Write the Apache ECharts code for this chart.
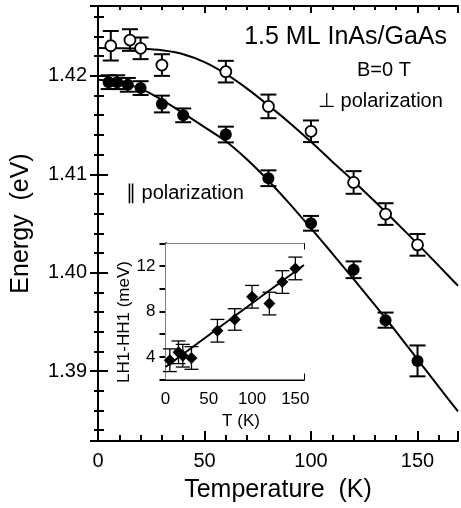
<!DOCTYPE html>
<html><head><meta charset="utf-8">
<script src="https://cdn.jsdelivr.net/npm/echarts@6/dist/echarts.min.js"></script>
<style>html,body{margin:0;padding:0;background:#fff}#c{width:461px;height:508px}</style>
</head><body><div id="c"></div>
<script>
// ---- main plot data: perpendicular polarization (open circles)
const perpT   = [6, 15, 20, 30, 60, 80, 100, 120, 135, 150];
const perpE   = [1.42306, 1.42364, 1.4228, 1.4211, 1.42043, 1.4169, 1.41437, 1.40917, 1.40596, 1.40283];
const perpErr = [0.0015, 0.0011, 0.0011, 0.0011, 0.0011, 0.0012, 0.0011, 0.00115, 0.0011, 0.0011];
// ---- parallel polarization (filled circles)
const parT   = [5, 9, 14, 20, 30, 40, 60, 80, 100, 120, 135, 150];
const parE   = [1.41936, 1.41936, 1.41909, 1.41876, 1.41714, 1.41599, 1.41404, 1.4096, 1.40502, 1.4003, 1.39518, 1.39104];
const parErr = [0.0007, 0.0007, 0.0007, 0.0007, 0.00085, 0.0007, 0.0008, 0.0008, 0.00075, 0.00085, 0.00077, 0.00157];
// ---- fitted curves
const fitT    = [0, 10, 20, 30, 40, 50, 60, 70, 80, 90, 100, 110, 120, 130, 140, 150, 160, 169];
const fitPerp = [1.42282, 1.4228, 1.42275, 1.4226, 1.4222, 1.4214, 1.4202, 1.4187, 1.417, 1.41522, 1.4133, 1.41128, 1.4093, 1.40723, 1.4051, 1.40293, 1.4007, 1.39867];
const fitPar  = [1.4196, 1.41935, 1.4187, 1.41755, 1.4162, 1.4148, 1.41336, 1.4115, 1.40935, 1.407, 1.4045, 1.40195, 1.39935, 1.3967, 1.394, 1.3912, 1.3884, 1.3859];
// ---- inset: LH1-HH1 splitting
const insT   = [5, 15, 20, 30, 60, 80, 100, 120, 135, 150];
const insV   = [3.7, 4.4, 4.1, 3.9, 6.3, 7.3, 9.3, 8.7, 10.6, 11.8];
const insErr = [1.0, 1.0, 1.0, 1.0, 1.0, 0.95, 1.0, 1.0, 1.0, 1.0];
const insFitT = [0, 160];
const insFitV = [3.1, 12.1];
// ---- tick labels
const mainXTicks = [0, 50, 100, 150];
const mainYTicks = ['1.39', '1.40', '1.41', '1.42'];
const insXTicks = [0, 50, 100, 150];
const insYTicks = [4, 8, 12];

const FONT = 'Liberation Sans, Arial, sans-serif';
const zip = (a, b) => a.map((v, i) => [v, b[i]]);
const zip3 = (a, b, c) => a.map((v, i) => [v, b[i], c[i]]);

function errRender(cap, lw) {
  return function (params, api) {
    const x = api.value(0), y = api.value(1), e = api.value(2);
    const p1 = api.coord([x, y + e]), p2 = api.coord([x, y - e]);
    const st = { stroke: '#000', lineWidth: lw };
    return { type: 'group', children: [
      { type: 'line', shape: { x1: p1[0], y1: p1[1], x2: p2[0], y2: p2[1] }, style: st },
      { type: 'line', shape: { x1: p1[0] - cap, y1: p1[1], x2: p1[0] + cap, y2: p1[1] }, style: st },
      { type: 'line', shape: { x1: p2[0] - cap, y1: p2[1], x2: p2[0] + cap, y2: p2[1] }, style: st }
    ]};
  };
}

const axLine = { show: true, lineStyle: { color: '#000', width: 2 } };
function frameAxis(base) { return Object.assign({ splitLine: { show: false }, minorSplitLine: { show: false }, axisLine: axLine }, base); }

const chart = echarts.init(document.getElementById('c'), null, { renderer: 'canvas' });
chart.setOption({
  animation: false,
  backgroundColor: '#fff',
  grid: [
    { left: 98, top: 6, right: 1, bottom: 65 },
    { left: 165.5, top: 243.5, right: 157, bottom: 128.5, show: true, backgroundColor: '#fff', borderWidth: 0, z: 5 }
  ],
  xAxis: [
    frameAxis({ gridIndex: 0, type: 'value', min: 0, max: 169, interval: 50, position: 'bottom',
      axisTick: { inside: true, length: 10, lineStyle: { width: 2, color: '#000' } },
      minorTick: { show: true, splitNumber: 5, length: 6, lineStyle: { width: 2, color: '#000' } },
      axisLabel: { fontSize: 20, color: '#000', fontFamily: FONT, margin: 10,
        formatter: v => mainXTicks.indexOf(v) >= 0 ? String(v) : '' },
      name: 'Temperature  (K)', nameLocation: 'middle', nameGap: 37,
      nameTextStyle: { fontSize: 25, color: '#000', fontFamily: FONT } }),
    frameAxis({ gridIndex: 0, type: 'value', min: 0, max: 169, interval: 50, position: 'top',
      axisTick: { inside: true, length: 7, lineStyle: { width: 2, color: '#000' } },
      minorTick: { show: true, splitNumber: 5, length: 4, lineStyle: { width: 2, color: '#000' } },
      axisLabel: { show: false } }),
    frameAxis({ gridIndex: 1, type: 'value', min: 0, max: 160, interval: 25, position: 'bottom',
      axisTick: { inside: true, length: 6, lineStyle: { width: 2, color: '#000' } },
      axisLabel: { fontSize: 17, color: '#000', fontFamily: FONT, margin: 11,
        formatter: v => insXTicks.indexOf(v) >= 0 ? String(v) : '' } }),
    frameAxis({ gridIndex: 1, type: 'value', min: 0, max: 160, interval: 25, position: 'top',
      axisTick: { inside: true, length: 6, lineStyle: { width: 2, color: '#000' } },
      axisLabel: { show: false } })
  ],
  yAxis: [
    frameAxis({ gridIndex: 0, type: 'value', min: 1.3829, max: 1.4271, splitNumber: 5, position: 'left',
      axisTick: { inside: true, length: 10, lineStyle: { width: 2, color: '#000' } },
      minorTick: { show: true, splitNumber: 5, length: 6, lineStyle: { width: 2, color: '#000' } },
      axisLabel: { fontSize: 20, color: '#000', fontFamily: FONT, margin: 11,
        formatter: v => { const s = v.toFixed(2); return (Math.abs(v - parseFloat(s)) < 1e-6 && mainYTicks.indexOf(s) >= 0) ? s : ''; } },
      name: 'Energy  (eV)', nameLocation: 'middle', nameGap: 64,
      nameTextStyle: { fontSize: 25, color: '#000', fontFamily: FONT } }),
    frameAxis({ gridIndex: 0, type: 'value', min: 1.3829, max: 1.4271, splitNumber: 5, position: 'right',
      axisTick: { inside: true, length: 8, lineStyle: { width: 2, color: '#000' } },
      minorTick: { show: true, splitNumber: 5, length: 4, lineStyle: { width: 2, color: '#000' } },
      axisLabel: { show: false } }),
    frameAxis({ gridIndex: 1, type: 'value', min: 2, max: 14, interval: 2, position: 'left',
      axisTick: { inside: true, length: 6, lineStyle: { width: 2, color: '#000' } },
      axisLabel: { fontSize: 17, color: '#000', fontFamily: FONT, margin: 10,
        formatter: v => insYTicks.indexOf(v) >= 0 ? String(v) : '' } }),
    frameAxis({ gridIndex: 1, type: 'value', min: 2, max: 14, interval: 2, position: 'right',
      axisTick: { inside: true, length: 6, lineStyle: { width: 2, color: '#000' } },
      axisLabel: { show: false } })
  ],
  series: [
    { type: 'line', xAxisIndex: 0, yAxisIndex: 0, data: zip(fitT, fitPerp), smooth: 0.3, showSymbol: false, symbol: 'none',
      lineStyle: { color: '#000', width: 2 }, z: 2 },
    { type: 'line', xAxisIndex: 0, yAxisIndex: 0, data: zip(fitT, fitPar), smooth: 0.3, showSymbol: false, symbol: 'none',
      lineStyle: { color: '#000', width: 2 }, z: 2 },
    { type: 'custom', xAxisIndex: 0, yAxisIndex: 0, data: zip3(perpT, perpE, perpErr), renderItem: errRender(8, 2), z: 3 },
    { type: 'custom', xAxisIndex: 0, yAxisIndex: 0, data: zip3(parT, parE, parErr), renderItem: errRender(8, 2), z: 3 },
    { type: 'scatter', xAxisIndex: 0, yAxisIndex: 0, data: zip(perpT, perpE), symbol: 'circle', symbolSize: 11,
      itemStyle: { color: '#fff', borderColor: '#000', borderWidth: 1.8, opacity: 1 }, z: 4 },
    { type: 'scatter', xAxisIndex: 0, yAxisIndex: 0, data: zip(parT, parE), symbol: 'circle', symbolSize: 12,
      itemStyle: { color: '#000', opacity: 1 }, z: 4 },
    { type: 'line', xAxisIndex: 2, yAxisIndex: 2, data: zip(insFitT, insFitV), showSymbol: false, symbol: 'none',
      lineStyle: { color: '#000', width: 2 }, z: 6 },
    { type: 'custom', xAxisIndex: 2, yAxisIndex: 2, data: zip3(insT, insV, insErr), renderItem: errRender(7, 1.3), z: 7 },
    { type: 'scatter', xAxisIndex: 2, yAxisIndex: 2, data: zip(insT, insV), symbol: 'diamond', symbolSize: 12,
      itemStyle: { color: '#000', opacity: 1 }, z: 8 }
  ],
  graphic: [
    { type: 'text', right: 14, top: 25, style: { text: '1.5 ML InAs/GaAs', fontSize: 25, fontFamily: FONT, fill: '#000' } },
    { type: 'text', left: 357, top: 60, style: { text: 'B=0 T', fontSize: 20, fontFamily: FONT, fill: '#000' } },
    { type: 'text', left: 318, top: 91, style: { text: '\u22A5 polarization', fontSize: 20, fontFamily: FONT, fill: '#000' } },
    { type: 'text', left: 126, top: 183, style: { text: '\u2225 polarization', fontSize: 20, fontFamily: FONT, fill: '#000' } },
    { type: 'text', x: 124.5, y: 322, rotation: Math.PI / 2, z: 20,
      style: { text: 'LH1-HH1 (meV)', fontSize: 17, fontFamily: FONT, fill: '#000', align: 'center', verticalAlign: 'middle' } },
    { type: 'text', x: 241, y: 421, z: 20,
      style: { text: 'T (K)', fontSize: 17, fontFamily: FONT, fill: '#000', align: 'center', verticalAlign: 'middle' } }
  ]
});
</script></body></html>
